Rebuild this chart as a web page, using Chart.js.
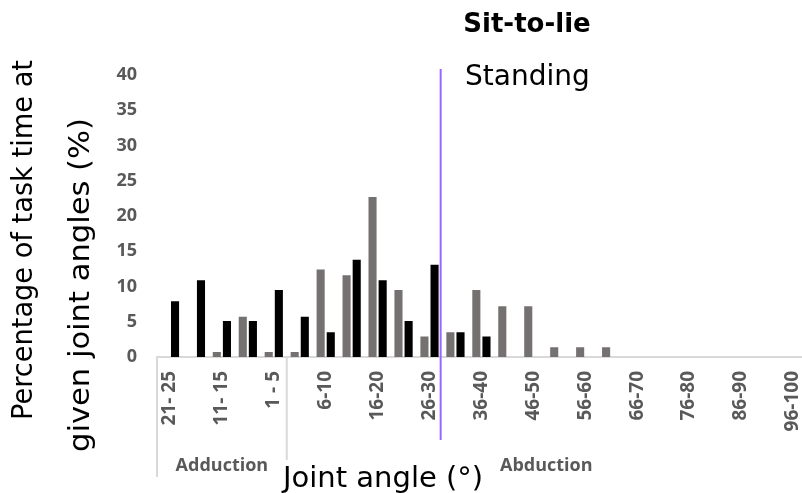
<!DOCTYPE html>
<html>
<head>
<meta charset="utf-8">
<title>Sit-to-lie</title>
<script src="https://cdn.jsdelivr.net/npm/chart.js@4.4.1/dist/chart.umd.min.js"></script>
<style>
  html, body { margin: 0; padding: 0; background: #fff; overflow: hidden; }
  #wrap { width: 830px; height: 493px; }
</style>
</head>
<body>
<div id="wrap"><canvas id="chart" width="830" height="493"></canvas></div>
<script>
// angle bins, adduction side first (largest angle on the left), then abduction
const ADDUCTION_BINS = ["21- 25", "16- 20", "11- 15", "6- 10", "1 - 5"];
const ABDUCTION_BINS = ["1-5", "6-10", "11-15", "16-20", "21-25", "26-30", "31-35",
    "36-40", "41-45", "46-50", "51-55", "56-60", "61-65", "66-70", "71-75",
    "76-80", "81-85", "86-90", "91-95", "96-100"];
const ANGLE_BINS = ADDUCTION_BINS.concat(ABDUCTION_BINS);

const GROUP_NAMES = ["Adduction", "Abduction"];
const GROUP_SIZES = [ADDUCTION_BINS.length, ABDUCTION_BINS.length];

// % of task time per bin
const GREY_VALUES = [0, 0, 0.7, 5.7, 0.7, 0.7, 12.4, 11.6, 22.7, 9.5, 2.9, 3.5, 9.5,
    7.2, 7.2, 1.4, 1.4, 1.4, 0, 0, 0, 0, 0, 0, 0];
const BLACK_VALUES = [7.9, 10.9, 5.1, 5.1, 9.5, 5.7, 3.5, 13.8, 10.9, 5.1, 13.1, 3.5, 2.9,
    0, 0, 0, 0, 0, 0, 0, 0, 0, 0, 0, 0];

const Y_MIN = 0;
const Y_MAX = 40;
const Y_STEP = 5;

// standing marker sits just past the 26-30 abduction bin
const STANDING_AT = 10.43;

const TICK_GREY = "#595959";
const AXIS_GREY = "#d9d9d9";

Chart.defaults.font.family = '"Open Sans"';

// draws text rotated a quarter turn, squeezed/stretched to a given length
function verticalText(ctx, text, baseX, centerY, length) {
    const w = ctx.measureText(text).width;
    ctx.save();
    ctx.translate(baseX, centerY);
    ctx.rotate(-Math.PI / 2);
    ctx.scale(length / w, 1);
    ctx.fillText(text, 0, 0);
    ctx.restore();
}

const overlay = {
    id: "overlay",
    afterDraw(chart) {
        const { ctx, chartArea } = chart;
        const x = chart.scales.x;
        ctx.save();

        // group separators under the category axis
        ctx.strokeStyle = AXIS_GREY;
        ctx.lineWidth = 2;
        let start = 0;
        const edges = [x.getPixelForValue(-0.5)];
        GROUP_SIZES.forEach((n) => {
            start += n;
            edges.push(x.getPixelForValue(start - 0.5));
        });
        edges.forEach((px) => {
            ctx.beginPath();
            ctx.moveTo(px, chartArea.bottom);
            ctx.lineTo(px, 477);
            ctx.stroke();
        });

        // group names
        ctx.fillStyle = TICK_GREY;
        ctx.font = 'bold 18px "Open Sans"';
        ctx.textAlign = "center";
        ctx.textBaseline = "alphabetic";
        start = 0;
        GROUP_NAMES.forEach((name, i) => {
            const a = x.getPixelForValue(start - 0.5);
            const b = x.getPixelForValue(start + GROUP_SIZES[i] - 0.5);
            ctx.fillText(name, (a + b) / 2, 471);
            start += GROUP_SIZES[i];
        });

        // standing line
        const sx = x.getPixelForValue(STANDING_AT);
        ctx.strokeStyle = "#9966ff";
        ctx.lineWidth = 2;
        ctx.beginPath();
        ctx.moveTo(sx, 69);
        ctx.lineTo(sx, 440);
        ctx.stroke();

        ctx.fillStyle = "#000";
        ctx.textAlign = "left";
        ctx.font = '28px "DejaVu Sans"';
        ctx.fillText("Standing", 465, 85);

        // chart title
        ctx.textAlign = "center";
        ctx.font = 'bold 26px "DejaVu Sans"';
        ctx.fillText("Sit-to-lie", 527, 32);

        // x axis title on a white box
        ctx.textAlign = "left";
        ctx.font = '29px "DejaVu Sans"';
        const xTitle = "Joint angle (°)";
        const w = ctx.measureText(xTitle).width;
        ctx.fillStyle = "#fff";
        ctx.fillRect(280, 460, w + 6, 33);
        ctx.fillStyle = "#000";
        ctx.fillText(xTitle, 283, 487);

        // y axis title, two lines
        ctx.font = '28px "DejaVu Sans"';
        ctx.textAlign = "center";
        verticalText(ctx, "Percentage of task time at", 32, 240, 360);
        verticalText(ctx, "given joint angles (%)", 89, 285, 334);

        ctx.restore();
    },
};

new Chart(document.getElementById("chart"), {
    type: "bar",
    data: {
        labels: ANGLE_BINS,
        datasets: [
            { label: "grey", data: GREY_VALUES, backgroundColor: "#767171" },
            { label: "black", data: BLACK_VALUES, backgroundColor: "#000000" },
        ],
    },
    options: {
        responsive: false,
        animation: false,
        layout: { padding: { top: 75, right: 18, left: 0, bottom: 0 } },
        datasets: {
            bar: { categoryPercentage: 0.78, barPercentage: 0.8 },
        },
        plugins: {
            legend: { display: false },
            tooltip: { enabled: false },
        },
        scales: {
            x: {
                grid: { display: false, drawTicks: false },
                border: { display: true, color: AXIS_GREY, width: 2 },
                ticks: {
                    autoSkip: false,
                    minRotation: 90,
                    maxRotation: 90,
                    padding: 14,
                    color: TICK_GREY,
                    font: { size: 19, weight: "bold" },
                    callback: function (value, index) {
                        return index % 2 === 0 ? this.getLabelForValue(value) : "";
                    },
                },
                afterFit(scale) {
                    scale.height = 136;
                },
            },
            y: {
                min: Y_MIN,
                max: Y_MAX,
                grid: { display: false, drawTicks: false },
                border: { display: false },
                ticks: {
                    stepSize: Y_STEP,
                    padding: 20,
                    color: TICK_GREY,
                    font: { size: 18, weight: "bold" },
                },
                afterFit(scale) {
                    scale.width = 157;
                },
            },
        },
    },
    plugins: [overlay],
});
</script>
</body>
</html>
